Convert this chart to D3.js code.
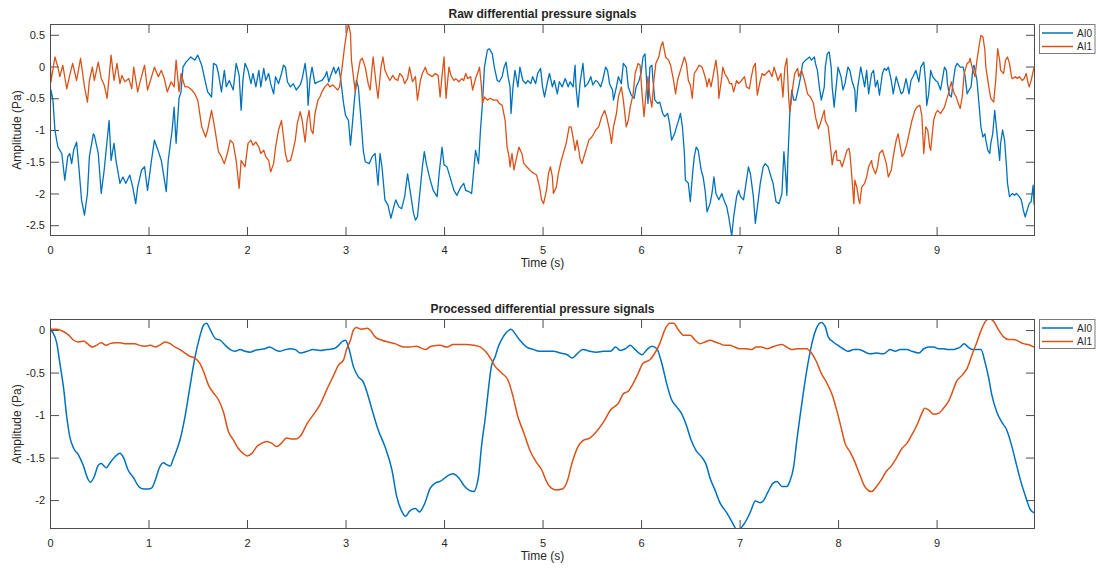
<!DOCTYPE html>
<html>
<head>
<meta charset="utf-8">
<script src="https://cdn.jsdelivr.net/npm/d3@7"></script>
<style>
  body { margin: 0; background: #fff; }
  svg { display: block; }
  text { font-family: "Liberation Sans", Arial, Helvetica, sans-serif; fill: #262626; }
</style>
</head>
<body>
<svg id="fig" width="1096" height="570"></svg>
<script>
// ---- series metadata ----
const seriesNames = ["AI0", "AI1"];
const seriesColors = ["#0072BD", "#D95319"];

// ---- tick labels ----
const xTicks = [0, 1, 2, 3, 4, 5, 6, 7, 8, 9];
const rawYTicks = [-2.5, -2, -1.5, -1, -0.5, 0, 0.5];
const procYTicks = [-2, -1.5, -1, -0.5, 0];

// ---- axis limits (tight to the data) ----
const timeRange = [0, 9.999];
const rawRange = [-2.67, 0.67];
const procRange = [-2.34, 0.13];

// ---- raw signals: [time (s), amplitude (Pa)] ----
const rawAI0 = [[0,-0.69],[0.01,-0.37],[0.03,-0.53],[0.05,-1.00],[0.08,-1.27],[0.12,-1.37],[0.15,-1.79],[0.18,-1.42],[0.20,-1.37],[0.22,-1.53],[0.24,-1.32],[0.27,-1.19],[0.29,-1.53],[0.32,-2.10],[0.35,-2.34],[0.38,-2.00],[0.40,-1.42],[0.44,-1.06],[0.45,-1.08],[0.49,-1.37],[0.52,-2.00],[0.55,-1.63],[0.60,-0.85],[0.62,-1.48],[0.65,-1.21],[0.67,-1.48],[0.71,-1.84],[0.74,-1.74],[0.77,-1.84],[0.81,-1.71],[0.84,-1.90],[0.87,-2.16],[0.89,-1.90],[0.93,-1.63],[0.96,-1.58],[0.99,-1.95],[1.03,-1.48],[1.06,-1.16],[1.09,-1.29],[1.13,-1.48],[1.18,-1.97],[1.20,-1.48],[1.24,-1.00],[1.26,-0.64],[1.28,-1.21],[1.31,-0.50],[1.33,-0.40],[1.35,-0.01],[1.38,0.07],[1.43,0.15],[1.47,0.10],[1.50,0.18],[1.54,0.02],[1.57,-0.19],[1.60,-0.40],[1.64,-0.48],[1.66,0.05],[1.69,0.02],[1.71,-0.11],[1.74,-0.40],[1.77,-0.06],[1.79,-0.32],[1.82,-0.22],[1.86,-0.37],[1.89,0.05],[1.92,-0.14],[1.94,-0.69],[1.96,-0.19],[1.98,0.05],
[2.01,-0.06],[2.04,-0.27],[2.06,-0.11],[2.09,-0.32],[2.12,-0.06],[2.14,-0.32],[2.17,-0.03],[2.19,-0.22],[2.22,-0.11],[2.24,-0.27],[2.27,-0.43],[2.29,-0.16],[2.32,-0.27],[2.35,-0.11],[2.37,0.02],[2.39,-0.01],[2.41,-0.24],[2.44,-0.32],[2.47,-0.27],[2.50,-0.37],[2.54,-0.29],[2.56,-0.19],[2.59,0.05],[2.61,-0.22],[2.62,-0.61],[2.64,-0.19],[2.66,-0.01],[2.69,-0.27],[2.72,-0.24],[2.76,-0.22],[2.79,-0.16],[2.81,-0.08],[2.83,-0.24],[2.85,-0.14],[2.88,-0.01],[2.90,-0.11],[2.93,-0.01],[2.95,-0.19],[2.98,-0.58],[3.00,-0.77],[3.03,-0.85],[3.05,-1.24],[3.07,-0.90],[3.09,-0.53],[3.11,-0.22],[3.13,-0.32],[3.16,-0.90],[3.18,-1.32],[3.20,-1.50],[3.24,-1.53],[3.27,-1.42],[3.30,-1.37],[3.33,-1.87],[3.35,-1.37],[3.37,-1.58],[3.40,-2.10],[3.43,-2.18],[3.46,-2.39],[3.49,-2.21],[3.51,-2.10],[3.54,-2.21],[3.57,-2.24],[3.60,-2.05],[3.63,-1.69],[3.65,-1.90],[3.69,-2.31],[3.71,-2.42],[3.73,-2.37],[3.76,-1.90],[3.78,-1.58],[3.80,-1.34],[3.82,-1.53],[3.86,-1.79],[3.89,-1.95],[3.93,-2.05],[3.95,-1.69],[3.98,-1.27],
[4.00,-1.55],[4.03,-1.58],[4.07,-1.79],[4.10,-1.95],[4.13,-2.03],[4.17,-1.90],[4.20,-1.84],[4.22,-1.95],[4.25,-1.97],[4.28,-2.00],[4.32,-1.32],[4.35,-1.53],[4.37,-1.00],[4.39,-0.58],[4.41,-0.01],[4.44,0.26],[4.46,0.28],[4.49,0.20],[4.51,-0.01],[4.54,-0.22],[4.56,-0.24],[4.59,-0.16],[4.61,-0.01],[4.63,0.07],[4.65,-0.16],[4.67,-0.32],[4.68,-0.74],[4.70,-0.32],[4.72,-0.06],[4.75,-0.32],[4.77,-0.01],[4.80,-0.22],[4.83,-0.27],[4.85,-0.22],[4.88,-0.27],[4.90,-0.16],[4.93,-0.27],[4.95,-0.11],[4.98,-0.03],[5.00,-0.32],[5.02,-0.48],[5.05,-0.24],[5.07,-0.11],[5.10,-0.32],[5.12,-0.22],[5.15,-0.43],[5.17,-0.24],[5.20,-0.32],[5.23,-0.19],[5.26,-0.32],[5.28,-0.24],[5.31,-0.32],[5.33,0.02],[5.34,-0.32],[5.36,-0.64],[5.38,-0.27],[5.41,0.05],[5.43,-0.32],[5.46,-0.27],[5.49,-0.16],[5.51,-0.29],[5.54,-0.22],[5.56,-0.24],[5.59,-0.32],[5.61,-0.22],[5.64,-0.01],[5.66,-0.06],[5.68,-0.27],[5.71,-0.37],[5.72,-0.53],[5.75,-0.32],[5.77,-0.16],[5.80,-0.27],[5.82,0.05],[5.85,-0.01],[5.87,-0.32],[5.90,-0.45],[5.93,-0.50],[5.95,-0.32],[5.98,-0.22],
[6.00,-0.10],[6.02,0.15],[6.04,0.20],[6.05,-0.06],[6.07,-0.58],[6.09,-0.01],[6.11,0.02],[6.12,-0.19],[6.14,-0.53],[6.17,-0.58],[6.19,-0.56],[6.22,-0.74],[6.24,-0.79],[6.27,-0.74],[6.29,-0.90],[6.31,-1.16],[6.34,-1.06],[6.36,-0.95],[6.38,-0.85],[6.40,-0.74],[6.42,-0.95],[6.44,-1.37],[6.45,-1.79],[6.48,-1.84],[6.50,-2.13],[6.52,-1.74],[6.54,-1.42],[6.56,-1.27],[6.58,-1.32],[6.61,-1.63],[6.63,-1.74],[6.65,-1.95],[6.67,-2.29],[6.70,-2.16],[6.72,-2.00],[6.74,-1.74],[6.76,-2.00],[6.79,-2.10],[6.82,-2.00],[6.84,-2.10],[6.87,-2.21],[6.89,-2.37],[6.92,-2.67],[6.94,-2.37],[6.97,-2.05],[6.99,-1.95],[7.01,-2.05],[7.04,-2.10],[7.06,-1.90],[7.09,-1.58],[7.11,-1.69],[7.14,-2.05],[7.16,-2.47],[7.19,-2.10],[7.21,-1.84],[7.24,-1.58],[7.26,-1.53],[7.29,-1.58],[7.32,-1.74],[7.34,-1.84],[7.37,-2.13],[7.40,-2.16],[7.43,-2.00],[7.45,-1.34],[7.47,-1.74],[7.48,-2.03],[7.49,-1.48],[7.51,-0.74],[7.53,-0.37],[7.55,-0.53],[7.57,-0.53],[7.60,-0.32],[7.62,-0.16],[7.64,0.05],[7.67,0.10],[7.71,0.15],[7.73,0.10],[7.76,0.15],[7.77,0.05],[7.79,-0.06],[7.81,-0.32],[7.83,-0.53],[7.86,-0.32],[7.87,-0.01],[7.89,0.20],[7.91,0.23],[7.93,-0.01],[7.94,-0.32],[7.96,-0.64],[7.98,-0.32],
[8.00,-0.01],[8.01,-0.06],[8.03,-0.16],[8.05,-0.37],[8.07,-0.27],[8.10,-0.01],[8.12,-0.06],[8.14,-0.22],[8.17,-0.37],[8.18,-0.71],[8.20,-0.32],[8.22,-0.11],[8.23,-0.01],[8.25,-0.16],[8.27,-0.32],[8.29,-0.06],[8.31,-0.43],[8.34,-0.11],[8.36,-0.06],[8.38,-0.32],[8.40,-0.22],[8.42,-0.45],[8.45,-0.11],[8.47,-0.03],[8.49,-0.06],[8.51,-0.01],[8.54,-0.22],[8.56,-0.43],[8.59,-0.16],[8.62,-0.32],[8.64,-0.43],[8.66,-0.40],[8.69,-0.19],[8.72,-0.43],[8.74,-0.22],[8.76,-0.16],[8.79,-0.06],[8.82,-0.24],[8.84,-0.01],[8.87,0.07],[8.89,-0.27],[8.90,-0.61],[8.92,-0.43],[8.94,-0.06],[8.96,-0.16],[8.99,-0.22],[9.01,-0.24],[9.04,-0.37],[9.06,-0.19],[9.08,-0.01],[9.10,-0.06],[9.11,-0.27],[9.13,-0.45],[9.15,-0.48],[9.17,-0.22],[9.19,-0.01],[9.21,0.05],[9.24,-0.01],[9.27,-0.01],[9.29,-0.16],[9.31,-0.43],[9.33,-0.37],[9.35,-0.32],[9.37,-0.01],[9.38,0.02],[9.41,-0.22],[9.43,-0.58],[9.45,-0.95],[9.47,-1.11],[9.49,-1.06],[9.50,-1.16],[9.52,-1.32],[9.54,-1.37],[9.55,-1.21],[9.57,-1.06],[9.59,-0.69],[9.60,-0.85],[9.62,-1.16],[9.64,-1.48],[9.65,-1.21],[9.67,-1.00],[9.69,-1.16],[9.71,-1.58],[9.72,-1.84],[9.74,-2.05],[9.77,-2.00],[9.79,-2.03],[9.81,-2.00],[9.84,-2.05],[9.86,-2.10],[9.88,-2.26],[9.90,-2.37],[9.92,-2.26],[9.94,-2.16],[9.96,-2.13],[9.98,-1.87],[9.99,-2.18]];

const rawAI1 = [[0,0.23],[0.01,-0.24],[0.05,0.15],[0.08,-0.01],[0.10,-0.16],[0.13,0.02],[0.17,-0.35],[0.20,-0.14],[0.23,0.05],[0.27,-0.22],[0.31,0.13],[0.35,-0.32],[0.38,-0.56],[0.40,-0.22],[0.43,-0.01],[0.45,-0.22],[0.49,0.07],[0.52,-0.19],[0.55,-0.29],[0.58,-0.50],[0.62,0.18],[0.65,-0.22],[0.68,0.05],[0.71,-0.27],[0.73,-0.14],[0.76,-0.24],[0.80,-0.19],[0.83,-0.35],[0.85,-0.01],[0.89,-0.40],[0.91,-0.27],[0.96,0.02],[0.99,-0.37],[1.02,-0.22],[1.06,-0.01],[1.10,-0.16],[1.13,-0.06],[1.16,-0.19],[1.19,-0.40],[1.23,-0.24],[1.26,-0.32],[1.28,0.10],[1.31,-0.40],[1.33,-0.11],[1.37,-0.32],[1.40,-0.32],[1.44,-0.37],[1.47,-0.43],[1.50,-0.53],[1.54,-0.95],[1.58,-1.11],[1.60,-1.00],[1.64,-0.69],[1.67,-0.95],[1.71,-1.34],[1.74,-1.42],[1.77,-1.53],[1.80,-1.37],[1.83,-1.16],[1.86,-1.21],[1.89,-1.48],[1.92,-1.92],[1.94,-1.48],[1.98,-1.58],
[2.01,-1.21],[2.04,-1.16],[2.06,-1.24],[2.09,-1.19],[2.12,-1.27],[2.14,-1.37],[2.17,-1.32],[2.19,-1.42],[2.22,-1.48],[2.24,-1.66],[2.27,-1.53],[2.29,-1.27],[2.32,-1.00],[2.35,-0.85],[2.37,-1.11],[2.39,-1.37],[2.41,-1.50],[2.44,-1.48],[2.46,-1.37],[2.49,-1.16],[2.51,-0.90],[2.54,-0.71],[2.56,-0.85],[2.59,-1.19],[2.61,-0.85],[2.63,-0.69],[2.65,-1.00],[2.67,-1.06],[2.69,-0.74],[2.72,-0.53],[2.74,-0.48],[2.76,-0.40],[2.79,-0.32],[2.82,-0.27],[2.84,-0.32],[2.87,-0.29],[2.89,-0.32],[2.92,-0.37],[2.94,-0.32],[2.97,0.05],[2.99,0.31],[3.01,0.52],[3.03,0.67],[3.05,0.52],[3.06,0.10],[3.08,-0.16],[3.10,-0.40],[3.12,-0.16],[3.15,0.10],[3.17,0.13],[3.20,-0.01],[3.23,-0.27],[3.25,-0.37],[3.27,-0.01],[3.28,0.15],[3.31,-0.27],[3.33,-0.50],[3.36,-0.01],[3.38,0.15],[3.40,-0.06],[3.43,-0.16],[3.45,-0.22],[3.48,-0.14],[3.50,-0.19],[3.53,-0.22],[3.55,-0.11],[3.58,-0.16],[3.60,-0.27],[3.63,-0.19],[3.65,-0.01],[3.68,-0.24],[3.71,-0.16],[3.73,-0.53],[3.76,-0.22],[3.78,-0.11],[3.81,-0.01],[3.83,-0.11],[3.86,-0.14],[3.88,-0.16],[3.91,-0.11],[3.94,-0.14],[3.96,-0.48],[3.98,-0.14],
[4.00,0.15],[4.02,-0.50],[4.05,-0.01],[4.07,-0.14],[4.10,-0.22],[4.12,-0.19],[4.15,-0.24],[4.18,-0.19],[4.20,-0.22],[4.22,-0.11],[4.24,-0.19],[4.27,-0.16],[4.29,-0.37],[4.32,-0.19],[4.35,-0.06],[4.36,-0.01],[4.38,-0.32],[4.39,-0.58],[4.41,-0.48],[4.44,-0.53],[4.47,-0.50],[4.50,-0.53],[4.54,-0.53],[4.56,-0.58],[4.59,-0.61],[4.62,-0.85],[4.64,-1.27],[4.66,-1.42],[4.67,-1.58],[4.69,-1.37],[4.71,-1.63],[4.73,-1.48],[4.76,-1.27],[4.79,-1.37],[4.81,-1.53],[4.84,-1.58],[4.87,-1.63],[4.89,-1.66],[4.92,-1.69],[4.94,-1.71],[4.97,-1.90],[4.99,-2.10],[5.01,-2.16],[5.04,-1.95],[5.06,-1.69],[5.08,-1.58],[5.10,-1.74],[5.11,-2.00],[5.14,-1.90],[5.16,-1.69],[5.19,-1.48],[5.21,-1.37],[5.24,-1.21],[5.27,-0.95],[5.29,-0.95],[5.32,-1.21],[5.33,-1.32],[5.35,-1.16],[5.37,-1.34],[5.38,-1.45],[5.40,-1.53],[5.43,-1.37],[5.45,-1.27],[5.47,-1.16],[5.50,-1.11],[5.52,-1.06],[5.54,-1.00],[5.57,-0.95],[5.60,-0.79],[5.63,-0.69],[5.65,-0.79],[5.68,-1.00],[5.70,-1.21],[5.72,-0.95],[5.75,-0.74],[5.77,-0.48],[5.80,-0.32],[5.82,-0.53],[5.85,-0.95],[5.87,-0.85],[5.89,-0.64],[5.92,-0.43],[5.94,-0.11],[5.97,0.05],[5.99,0.02],
[6.01,-0.43],[6.03,-0.79],[6.05,-0.43],[6.07,-0.16],[6.09,-0.48],[6.11,-0.64],[6.13,-0.22],[6.15,0.05],[6.18,0.15],[6.20,0.31],[6.22,0.39],[6.23,0.31],[6.25,0.15],[6.28,0.10],[6.30,0.02],[6.33,-0.22],[6.35,-0.43],[6.37,-0.22],[6.39,-0.11],[6.41,-0.01],[6.44,0.15],[6.46,0.05],[6.48,-0.22],[6.50,-0.29],[6.52,-0.50],[6.54,-0.11],[6.56,-0.06],[6.59,0.02],[6.62,-0.01],[6.64,-0.11],[6.66,-0.22],[6.67,-0.32],[6.69,-0.19],[6.71,-0.32],[6.73,-0.16],[6.76,0.10],[6.78,-0.16],[6.79,-0.50],[6.82,-0.16],[6.83,-0.01],[6.85,-0.11],[6.88,-0.19],[6.90,-0.27],[6.92,-0.27],[6.94,-0.40],[6.97,-0.22],[6.99,-0.27],[7.02,-0.22],[7.05,-0.16],[7.07,-0.32],[7.10,-0.35],[7.12,-0.16],[7.14,-0.01],[7.16,0.05],[7.18,-0.45],[7.21,-0.22],[7.23,-0.11],[7.25,-0.14],[7.27,-0.11],[7.30,-0.06],[7.33,-0.16],[7.35,-0.01],[7.37,-0.11],[7.39,-0.22],[7.42,-0.11],[7.44,-0.48],[7.46,-0.01],[7.48,0.13],[7.50,-0.53],[7.51,-0.71],[7.53,-0.48],[7.54,-0.32],[7.56,-0.11],[7.59,-0.03],[7.60,-0.16],[7.63,-0.06],[7.66,-0.22],[7.69,-0.43],[7.72,-0.48],[7.75,-0.58],[7.77,-0.79],[7.80,-0.98],[7.82,-0.90],[7.84,-0.79],[7.86,-0.69],[7.87,-0.85],[7.90,-0.95],[7.93,-1.37],[7.94,-1.55],[7.96,-1.37],[7.98,-1.32],[7.99,-1.48],
[8.02,-1.48],[8.04,-1.58],[8.06,-1.48],[8.09,-1.32],[8.11,-1.29],[8.12,-1.37],[8.14,-1.74],[8.16,-2.16],[8.17,-1.79],[8.19,-1.90],[8.21,-2.10],[8.22,-2.16],[8.24,-1.90],[8.27,-1.84],[8.29,-1.74],[8.31,-1.58],[8.34,-1.48],[8.35,-1.58],[8.38,-1.69],[8.40,-1.58],[8.42,-1.37],[8.45,-1.32],[8.47,-1.42],[8.49,-1.53],[8.51,-1.74],[8.54,-1.63],[8.56,-1.42],[8.59,-1.16],[8.61,-1.06],[8.62,-1.16],[8.65,-1.42],[8.67,-1.37],[8.70,-1.21],[8.72,-1.06],[8.75,-0.85],[8.78,-0.69],[8.80,-0.64],[8.83,-0.61],[8.85,-0.77],[8.87,-1.37],[8.89,-0.95],[8.91,-1.00],[8.93,-1.27],[8.94,-1.32],[8.97,-0.85],[8.99,-0.74],[9.01,-0.69],[9.04,-0.74],[9.06,-0.69],[9.08,-0.64],[9.10,-0.53],[9.12,-0.43],[9.15,-0.24],[9.16,-0.32],[9.18,-0.43],[9.20,-0.48],[9.22,-0.58],[9.24,-0.66],[9.26,-0.48],[9.28,-0.11],[9.31,0.05],[9.33,0.07],[9.34,0.13],[9.36,-0.01],[9.38,-0.11],[9.39,-0.16],[9.41,0.10],[9.43,0.31],[9.45,0.49],[9.47,0.47],[9.49,0.26],[9.50,-0.01],[9.53,-0.32],[9.55,-0.50],[9.58,-0.56],[9.60,-0.22],[9.62,0.28],[9.64,0.10],[9.65,-0.06],[9.68,-0.11],[9.70,0.10],[9.72,0.15],[9.74,0.05],[9.76,-0.16],[9.77,-0.19],[9.80,-0.16],[9.82,-0.19],[9.84,-0.16],[9.87,-0.22],[9.89,-0.19],[9.91,-0.11],[9.93,-0.27],[9.94,-0.32],[9.96,-0.22],[9.99,-0.01]];

// ---- processed (filtered) signals: [time (s), amplitude (Pa)] ----
const procAI0 = [[0,0.0],[0.03,-0.03],[0.07,-0.16],[0.10,-0.39],[0.14,-0.70],[0.17,-1.02],[0.20,-1.25],[0.24,-1.39],[0.29,-1.47],[0.34,-1.60],[0.38,-1.74],[0.41,-1.79],[0.45,-1.72],[0.49,-1.59],[0.52,-1.57],[0.57,-1.62],[0.61,-1.56],[0.66,-1.49],[0.71,-1.45],[0.75,-1.51],[0.79,-1.64],[0.85,-1.74],[0.90,-1.84],[0.95,-1.87],[1.00,-1.87],[1.03,-1.86],[1.07,-1.76],[1.11,-1.62],[1.15,-1.56],[1.18,-1.58],[1.22,-1.60],[1.25,-1.52],[1.29,-1.40],[1.32,-1.29],[1.37,-1.02],[1.42,-0.67],[1.47,-0.33],[1.52,-0.08],[1.56,0.06],[1.59,0.08],[1.62,0.02],[1.68,-0.10],[1.73,-0.12],[1.78,-0.18],[1.83,-0.23],[1.88,-0.25],[1.93,-0.23],[1.98,-0.25],[2.03,-0.26],[2.08,-0.24],[2.13,-0.23],[2.18,-0.22],[2.23,-0.20],[2.28,-0.23],[2.33,-0.25],[2.39,-0.23],[2.44,-0.22],[2.49,-0.23],[2.54,-0.27],[2.61,-0.25],[2.67,-0.23],[2.74,-0.24],[2.81,-0.23],[2.88,-0.22],[2.93,-0.18],[2.96,-0.14],[3.00,-0.12],[3.03,-0.20],[3.08,-0.43],[3.13,-0.55],[3.18,-0.61],[3.22,-0.74],[3.27,-0.94],[3.33,-1.17],[3.40,-1.37],[3.47,-1.64],[3.52,-1.96],[3.57,-2.13],[3.61,-2.19],[3.65,-2.13],[3.71,-2.10],[3.75,-2.14],[3.80,-2.05],[3.86,-1.86],[3.91,-1.80],[3.96,-1.78],[4.03,-1.72],[4.09,-1.69],[4.15,-1.74],[4.21,-1.84],[4.30,-1.90],[4.35,-1.72],[4.38,-1.37],[4.42,-1.02],[4.45,-0.70],[4.48,-0.43],[4.52,-0.31],[4.55,-0.20],[4.60,-0.08],[4.64,-0.02],[4.68,0.01],[4.72,-0.04],[4.77,-0.12],[4.84,-0.20],[4.91,-0.23],[4.97,-0.25],[5.04,-0.25],[5.11,-0.25],[5.18,-0.27],[5.25,-0.29],[5.30,-0.33],[5.35,-0.28],[5.41,-0.23],[5.48,-0.25],[5.55,-0.26],[5.62,-0.25],[5.69,-0.25],[5.74,-0.20],[5.79,-0.24],[5.84,-0.22],[5.89,-0.18],[5.94,-0.23],[6.01,-0.29],[6.06,-0.23],[6.11,-0.19],[6.16,-0.22],[6.21,-0.39],[6.26,-0.63],[6.31,-0.82],[6.36,-0.90],[6.41,-0.98],[6.46,-1.12],[6.51,-1.30],[6.56,-1.42],[6.62,-1.50],[6.66,-1.58],[6.70,-1.74],[6.75,-1.88],[6.80,-2.03],[6.87,-2.15],[6.92,-2.25],[6.97,-2.34],[7.00,-2.34],[7.04,-2.29],[7.09,-2.19],[7.12,-2.11],[7.16,-2.01],[7.21,-2.03],[7.24,-2.01],[7.29,-1.90],[7.34,-1.80],[7.38,-1.78],[7.43,-1.84],[7.48,-1.84],[7.51,-1.78],[7.55,-1.60],[7.58,-1.31],[7.63,-0.88],[7.68,-0.49],[7.73,-0.18],[7.78,0.02],[7.83,0.09],[7.87,0.04],[7.90,-0.08],[7.95,-0.14],[8.00,-0.18],[8.05,-0.22],[8.10,-0.25],[8.16,-0.23],[8.21,-0.23],[8.26,-0.25],[8.32,-0.28],[8.39,-0.27],[8.46,-0.28],[8.53,-0.23],[8.58,-0.25],[8.63,-0.23],[8.70,-0.23],[8.75,-0.25],[8.82,-0.27],[8.87,-0.22],[8.92,-0.20],[8.97,-0.20],[9.02,-0.22],[9.07,-0.22],[9.12,-0.23],[9.17,-0.23],[9.20,-0.22],[9.24,-0.20],[9.28,-0.16],[9.32,-0.20],[9.37,-0.23],[9.41,-0.23],[9.45,-0.23],[9.49,-0.37],[9.53,-0.57],[9.56,-0.76],[9.61,-0.96],[9.66,-1.08],[9.71,-1.17],[9.76,-1.35],[9.81,-1.58],[9.86,-1.80],[9.91,-1.98],[9.95,-2.11],[9.99,-2.15]];

const procAI1 = [[0,0.01],[0.07,0.01],[0.14,-0.02],[0.19,-0.06],[0.24,-0.12],[0.29,-0.14],[0.34,-0.13],[0.38,-0.16],[0.43,-0.20],[0.47,-0.18],[0.52,-0.15],[0.57,-0.18],[0.61,-0.16],[0.66,-0.15],[0.71,-0.15],[0.76,-0.16],[0.81,-0.16],[0.86,-0.16],[0.91,-0.18],[0.96,-0.19],[1.02,-0.18],[1.07,-0.20],[1.11,-0.18],[1.17,-0.14],[1.22,-0.16],[1.27,-0.20],[1.32,-0.23],[1.37,-0.27],[1.42,-0.31],[1.47,-0.33],[1.52,-0.39],[1.56,-0.49],[1.61,-0.65],[1.66,-0.74],[1.71,-0.82],[1.76,-0.96],[1.81,-1.19],[1.86,-1.29],[1.91,-1.39],[1.96,-1.45],[2.00,-1.48],[2.05,-1.45],[2.10,-1.37],[2.15,-1.33],[2.20,-1.31],[2.25,-1.33],[2.30,-1.37],[2.35,-1.33],[2.40,-1.27],[2.45,-1.28],[2.50,-1.28],[2.54,-1.25],[2.61,-1.10],[2.67,-1.00],[2.74,-0.88],[2.81,-0.70],[2.88,-0.53],[2.93,-0.41],[2.98,-0.35],[3.01,-0.23],[3.05,-0.12],[3.08,0.0],[3.11,0.03],[3.16,0.01],[3.22,0.02],[3.25,0.0],[3.30,-0.08],[3.37,-0.12],[3.43,-0.14],[3.50,-0.16],[3.59,-0.20],[3.65,-0.20],[3.72,-0.19],[3.81,-0.23],[3.87,-0.19],[3.96,-0.18],[4.03,-0.20],[4.09,-0.17],[4.16,-0.17],[4.23,-0.17],[4.30,-0.18],[4.37,-0.20],[4.42,-0.25],[4.47,-0.33],[4.52,-0.43],[4.59,-0.51],[4.65,-0.59],[4.70,-0.78],[4.75,-1.02],[4.81,-1.21],[4.87,-1.41],[4.94,-1.56],[4.99,-1.64],[5.04,-1.78],[5.09,-1.86],[5.14,-1.88],[5.20,-1.87],[5.25,-1.78],[5.30,-1.56],[5.36,-1.37],[5.41,-1.30],[5.48,-1.27],[5.55,-1.19],[5.62,-1.08],[5.69,-0.94],[5.77,-0.86],[5.82,-0.75],[5.87,-0.72],[5.92,-0.63],[5.97,-0.51],[6.02,-0.39],[6.09,-0.35],[6.14,-0.27],[6.19,-0.16],[6.24,0.0],[6.29,0.08],[6.33,0.08],[6.38,0.0],[6.43,-0.06],[6.50,-0.06],[6.55,-0.12],[6.60,-0.16],[6.65,-0.14],[6.70,-0.12],[6.75,-0.14],[6.80,-0.16],[6.85,-0.18],[6.90,-0.18],[6.95,-0.20],[7.00,-0.22],[7.07,-0.22],[7.12,-0.23],[7.17,-0.20],[7.22,-0.20],[7.28,-0.22],[7.33,-0.20],[7.38,-0.18],[7.43,-0.17],[7.48,-0.20],[7.53,-0.23],[7.58,-0.22],[7.63,-0.22],[7.68,-0.22],[7.73,-0.27],[7.78,-0.37],[7.83,-0.51],[7.88,-0.61],[7.94,-0.76],[7.99,-0.96],[8.04,-1.19],[8.07,-1.33],[8.12,-1.43],[8.17,-1.55],[8.22,-1.70],[8.27,-1.84],[8.31,-1.89],[8.34,-1.90],[8.39,-1.84],[8.44,-1.76],[8.49,-1.66],[8.54,-1.60],[8.59,-1.51],[8.65,-1.39],[8.70,-1.33],[8.75,-1.23],[8.80,-1.12],[8.85,-0.98],[8.88,-0.92],[8.92,-0.94],[8.97,-0.99],[9.02,-0.98],[9.07,-0.92],[9.12,-0.84],[9.17,-0.70],[9.20,-0.61],[9.26,-0.53],[9.31,-0.45],[9.36,-0.29],[9.41,-0.14],[9.46,0.02],[9.51,0.12],[9.54,0.13],[9.58,0.10],[9.63,0.0],[9.68,-0.08],[9.73,-0.11],[9.78,-0.11],[9.83,-0.13],[9.88,-0.16],[9.93,-0.17],[9.99,-0.20]];

// ---- figure ----
const svg = d3.select("#fig");
const plotLeft = 50, plotRight = 1035;
const axisColor = "#4d4d4d";

function drawPanel(opts) {
  const { id, top, bottom, title, yRange, yTicks, series, lineWidth, curve } = opts;
  const x = d3.scaleLinear().domain(timeRange).range([plotLeft, plotRight]);
  const y = d3.scaleLinear().domain(yRange).range([bottom, top]);
  const g = svg.append("g");

  g.append("clipPath").attr("id", "clip-" + id)
    .append("rect").attr("x", plotLeft).attr("y", top)
    .attr("width", plotRight - plotLeft).attr("height", bottom - top);

  const fmt = d => String(d);
  const tick = 9;

  // bottom axis with labels, ticks pointing inward
  const gx = g.append("g").attr("transform", `translate(0,${bottom})`)
    .call(d3.axisBottom(x).tickValues(xTicks).tickSizeInner(-tick).tickSizeOuter(0).tickPadding(10).tickFormat(fmt));
  // top mirrored ticks
  const gxt = g.append("g").attr("transform", `translate(0,${top})`)
    .call(d3.axisTop(x).tickValues(xTicks).tickSizeInner(-tick).tickSizeOuter(0).tickFormat(""));
  // left axis with labels
  const gy = g.append("g").attr("transform", `translate(${plotLeft},0)`)
    .call(d3.axisLeft(y).tickValues(yTicks).tickSizeInner(-tick).tickSizeOuter(0).tickPadding(5).tickFormat(fmt));
  // right mirrored ticks
  const gyr = g.append("g").attr("transform", `translate(${plotRight},0)`)
    .call(d3.axisRight(y).tickValues(yTicks).tickSizeInner(-tick).tickSizeOuter(0).tickFormat(""));

  [gx, gxt, gy, gyr].forEach(a => {
    a.select(".domain").remove();
    a.selectAll(".tick line").attr("stroke", axisColor).attr("stroke-width", 1);
    a.selectAll(".tick text").attr("font-size", 11).attr("fill", "#262626")
      .attr("font-family", '"Liberation Sans", Arial, sans-serif');
  });

  // signal traces
  const line = d3.line().curve(curve).x(d => x(d[0])).y(d => y(d[1]));
  const traces = g.append("g").attr("clip-path", `url(#clip-${id})`);
  series.forEach((s, i) => {
    traces.append("path").datum(s)
      .attr("fill", "none").attr("stroke", seriesColors[i])
      .attr("stroke-width", lineWidth).attr("stroke-linejoin", "round")
      .attr("d", line);
  });

  // axes box
  g.append("rect").attr("x", plotLeft + 0.5).attr("y", top + 0.5)
    .attr("width", plotRight - plotLeft - 1).attr("height", bottom - top - 1)
    .attr("fill", "none").attr("stroke", axisColor).attr("stroke-width", 1);

  // title and axis labels
  const cx = (plotLeft + plotRight) / 2;
  g.append("text").attr("x", cx).attr("y", top - 6).attr("text-anchor", "middle")
    .attr("font-size", 12).attr("font-weight", "bold").text(title);
  g.append("text").attr("x", cx).attr("y", bottom + 31).attr("text-anchor", "middle")
    .attr("font-size", 12).text("Time (s)");
  g.append("text")
    .attr("transform", `translate(21,${(top + bottom) / 2}) rotate(-90)`)
    .attr("text-anchor", "middle").attr("font-size", 12).text("Amplitude (Pa)");

  // legend
  const lg = g.append("g");
  lg.append("rect").attr("x", 1039.5).attr("y", top + 0.5).attr("width", 55.5).attr("height", 29)
    .attr("fill", "#fff").attr("stroke", "#7a7a7a").attr("stroke-width", 1);
  seriesNames.forEach((name, i) => {
    const ly = top + 9 + i * 13.5;
    lg.append("line").attr("x1", 1042).attr("x2", 1073).attr("y1", ly).attr("y2", ly)
      .attr("stroke", seriesColors[i]).attr("stroke-width", 1.5);
    lg.append("text").attr("x", 1077).attr("y", ly).attr("dy", "0.35em")
      .attr("font-size", 10).text(name);
  });
}

drawPanel({
  id: "raw", top: 24, bottom: 236,
  title: "Raw differential pressure signals",
  yRange: rawRange, yTicks: rawYTicks,
  series: [rawAI0, rawAI1], lineWidth: 1.3, curve: d3.curveLinear
});

drawPanel({
  id: "proc", top: 319, bottom: 529,
  title: "Processed differential pressure signals",
  yRange: procRange, yTicks: procYTicks,
  series: [procAI0, procAI1], lineWidth: 1.5, curve: d3.curveMonotoneX
});
</script>
</body>
</html>
